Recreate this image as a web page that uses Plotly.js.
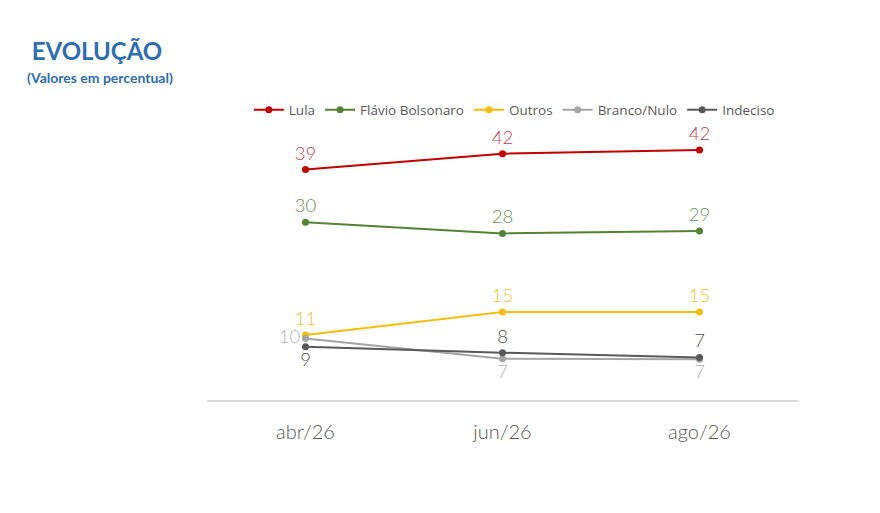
<!DOCTYPE html>
<html>
<head>
<meta charset="utf-8">
<script src="https://cdn.plot.ly/plotly-3.0.1.min.js"></script>
<style>
  html, body { margin: 0; padding: 0; background: #fff; }
  #chart { width: 880px; height: 513px; }
</style>
</head>
<body>
<div id="chart"></div>
<script>
// dados (percentual)
const meses = ["abr/26", "jun/26", "ago/26"];
const lula = [39.0, 41.7, 42.3];
const flavio = [30.1, 28.2, 28.6];
const outros = [11.0, 14.9, 14.9];
const branco = [10.4, 7.0, 6.9];
const indeciso = [9.0, 8.0, 7.2];

const fonte = "Lato, 'Open Sans', sans-serif";

// fábrica de série
function serie(nome, y, cor, corTexto, posicoes) {
  return {
    type: "scatter",
    mode: "lines+markers+text",
    name: nome,
    x: meses,
    y: y,
    line: { color: cor, width: 2 },
    marker: { color: cor, size: 7 },
    texttemplate: "%{y:.0f}",
    textposition: posicoes,
    textfont: { family: fonte, size: 18.5, weight: 300, color: corTexto },
    cliponaxis: false,
    hoverinfo: "none"
  };
}

const data = [
  serie("Lula", lula, "#c00000", "#b5474d", "top center"),
  serie("Flávio Bolsonaro", flavio, "#548235", "#6d8f58", "top center"),
  serie("Outros", outros, "#f5bd10", "#f0c030", "top center"),
  serie("Branco/Nulo", branco, "#a5a5a5", "#b3b3b3", ["middle left", "bottom center", "bottom center"]),
  serie("Indeciso", indeciso, "#595959", "#4d4d4d", ["bottom center", "top center", "top center"])
];

const layout = {
  width: 880,
  height: 513,
  paper_bgcolor: "#fff",
  plot_bgcolor: "#fff",
  margin: { l: 207, r: 82, t: 130, b: 113 },
  showlegend: true,
  legend: {
    orientation: "h",
    x: 0.52,
    xanchor: "center",
    y: 1.074,
    yanchor: "middle",
    font: { family: "'Liberation Sans Narrow', 'Open Sans', sans-serif", size: 13.5, color: "#595959" },
    itemwidth: 30,
    traceorder: "normal"
  },
  title: {
    text: "<b>EVOLUÇÃO</b>",
    xref: "container",
    yref: "container",
    x: 97 / 880,
    xanchor: "center",
    y: 1 - 52 / 513,
    yanchor: "middle",
    font: { family: "Lato, sans-serif", size: 24, color: "#2e6db0" }
  },
  annotations: [{
    text: "<b>(Valores em percentual)</b>",
    xref: "paper",
    yref: "paper",
    x: (100 - 207) / 591,
    y: (400 - 77) / 270,
    xanchor: "center",
    yanchor: "middle",
    showarrow: false,
    font: { family: "Lato, sans-serif", size: 14, color: "#2e6db0" }
  }],
  xaxis: {
    type: "category",
    range: [-0.5, 2.5],
    showline: true,
    linecolor: "#d9d9d9",
    linewidth: 1.5,
    showgrid: false,
    zeroline: false,
    ticks: "",
    ticklabelstandoff: 13,
    tickfont: { family: fonte, size: 20, weight: 300, color: "#595959" },
    fixedrange: true
  },
  yaxis: {
    visible: false,
    range: [0, 45.7],
    showgrid: false,
    zeroline: false,
    fixedrange: true
  }
};

const config = { displayModeBar: false, staticPlot: true };

Plotly.newPlot("chart", data, layout, config);
</script>
</body>
</html>
